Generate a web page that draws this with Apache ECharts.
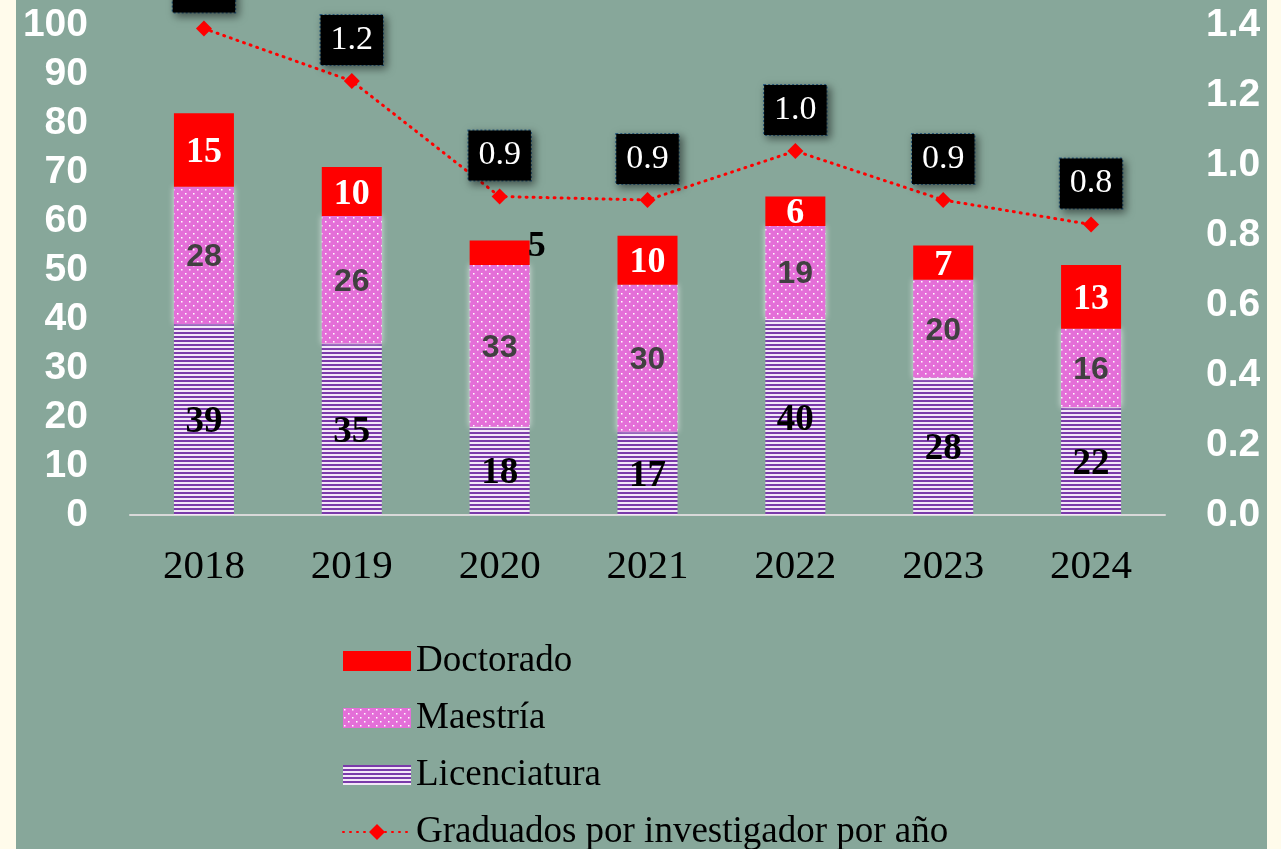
<!DOCTYPE html>
<html>
<head>
<meta charset="utf-8">
<script src="https://cdn.jsdelivr.net/npm/echarts@6/dist/echarts.min.js"></script>
<style>
  html, body { margin: 0; padding: 0; background: #fffbeb; }
  #main { position: absolute; left: 16px; top: 0; width: 1251px; height: 849px; background: #87a79a; }
</style>
</head>
<body>
<div id="main"></div>
<script>
var years = ['2018', '2019', '2020', '2021', '2022', '2023', '2024'];
var licenciatura = [39, 35, 18, 17, 40, 28, 22];
var maestria = [28, 26, 33, 30, 19, 20, 16];
var doctorado = [15, 10, 5, 10, 6, 7, 13];
var porInvestigador = [1.39, 1.24, 0.91, 0.90, 1.04, 0.90, 0.83];
var leftTicks = { min: 0, max: 100, interval: 10 };
var rightTicks = { min: 0, max: 1.4, interval: 0.2 };

// horizontal purple stripes
function stripePattern() {
  var c = document.createElement('canvas');
  c.width = 8; c.height = 4;
  var ctx = c.getContext('2d');
  ctx.fillStyle = '#f3e6f8';
  ctx.fillRect(0, 0, 8, 4);
  ctx.fillStyle = '#7a3aaa';
  ctx.fillRect(0, 0, 8, 2);
  return c;
}
// pink with white dots
function dotPattern() {
  var c = document.createElement('canvas');
  c.width = 8; c.height = 8;
  var ctx = c.getContext('2d');
  ctx.fillStyle = '#e46fd8';
  ctx.fillRect(0, 0, 8, 8);
  ctx.fillStyle = '#ffffff';
  ctx.fillRect(1, 1, 1.5, 1.5);
  ctx.fillRect(5, 5, 1.5, 1.5);
  return c;
}

var serif = '"Liberation Serif", "Times New Roman", serif';
var sans = '"Liberation Sans", Arial, sans-serif';

var myChart = echarts.init(document.getElementById('main'));

var docData = doctorado.map(function (v, i) {
  if (v < 6) {
    return {
      value: v,
      label: { position: 'right', offset: [-4, -6], color: '#000000', distance: 2 }
    };
  }
  return v;
});

var option = {
  animation: false,
  grid: { left: 114, right: 102, top: 25, bottom: 334 },
  legend: {
    orient: 'vertical',
    left: 326,
    top: 640,
    height: 230,
    padding: 0,
    itemWidth: 68,
    itemHeight: 20,
    itemGap: 15,
    itemTextGap: 8,
    data: [
      { name: 'Doctorado', icon: 'rect' },
      { name: 'Maestría', icon: 'rect' },
      { name: 'Licenciatura', icon: 'rect' },
      'Graduados por investigador por año'
    ],
    textStyle: { fontFamily: serif, fontSize: 37, color: '#000000', lineHeight: 42 }
  },
  xAxis: {
    type: 'category',
    data: years,
    axisLine: { show: true, lineStyle: { color: '#d9d9d9', width: 2 } },
    axisTick: { show: false },
    axisLabel: { fontFamily: serif, fontSize: 41, color: '#000000', margin: 32 }
  },
  yAxis: [
    {
      type: 'value',
      min: leftTicks.min, max: leftTicks.max, interval: leftTicks.interval,
      splitLine: { show: false },
      axisLine: { show: false },
      axisTick: { show: false },
      axisLabel: { fontFamily: sans, fontWeight: 'bold', fontSize: 39, color: '#ffffff', margin: 42 }
    },
    {
      type: 'value',
      min: rightTicks.min, max: rightTicks.max, interval: rightTicks.interval,
      splitLine: { show: false },
      axisLine: { show: false },
      axisTick: { show: false },
      axisLabel: {
        fontFamily: sans, fontWeight: 'bold', fontSize: 39, color: '#ffffff', margin: 41,
        formatter: function (v) { return v.toFixed(1); }
      }
    }
  ],
  series: [
    {
      name: 'Licenciatura',
      type: 'bar',
      stack: 'total',
      barWidth: 60,
      data: licenciatura,
      itemStyle: { color: { image: stripePattern(), repeat: 'repeat' } },
      label: {
        show: true, position: 'inside', offset: [0, 3],
        fontFamily: serif, fontWeight: 'bold', fontSize: 37, color: '#000000'
      }
    },
    {
      name: 'Maestría',
      type: 'bar',
      stack: 'total',
      barWidth: 60,
      data: maestria,
      itemStyle: {
        color: { image: dotPattern(), repeat: 'repeat' },
        shadowColor: 'rgba(255,255,255,0.7)', shadowBlur: 6
      },
      label: {
        show: true, position: 'inside', offset: [0, 2],
        fontFamily: sans, fontWeight: 'bold', fontSize: 32, color: '#404040'
      }
    },
    {
      name: 'Doctorado',
      type: 'bar',
      stack: 'total',
      barWidth: 60,
      data: docData,
      itemStyle: { color: '#ff0000' },
      label: {
        show: true, position: 'inside', offset: [0, 3],
        fontFamily: serif, fontWeight: 'bold', fontSize: 36, color: '#ffffff'
      }
    },
    {
      name: 'Graduados por investigador por año',
      type: 'line',
      yAxisIndex: 1,
      data: porInvestigador,
      symbol: 'diamond',
      symbolSize: 16,
      itemStyle: { color: '#ff0000' },
      lineStyle: { color: '#ff0000', width: 3, type: [1, 6], cap: 'round' },
      label: {
        show: true,
        position: 'top',
        distance: 8,
        formatter: function (p) { return p.value.toFixed(1); },
        fontFamily: serif, fontSize: 34, color: '#ffffff',
        backgroundColor: '#000000',
        padding: [8, 10],
        borderColor: '#2a5d80', borderWidth: 1, borderType: 'dotted',
        shadowColor: 'rgba(0,0,0,0.5)', shadowBlur: 8, shadowOffsetX: 3, shadowOffsetY: 3
      }
    }
  ]
};

option && myChart.setOption(option);
</script>
</body>
</html>
